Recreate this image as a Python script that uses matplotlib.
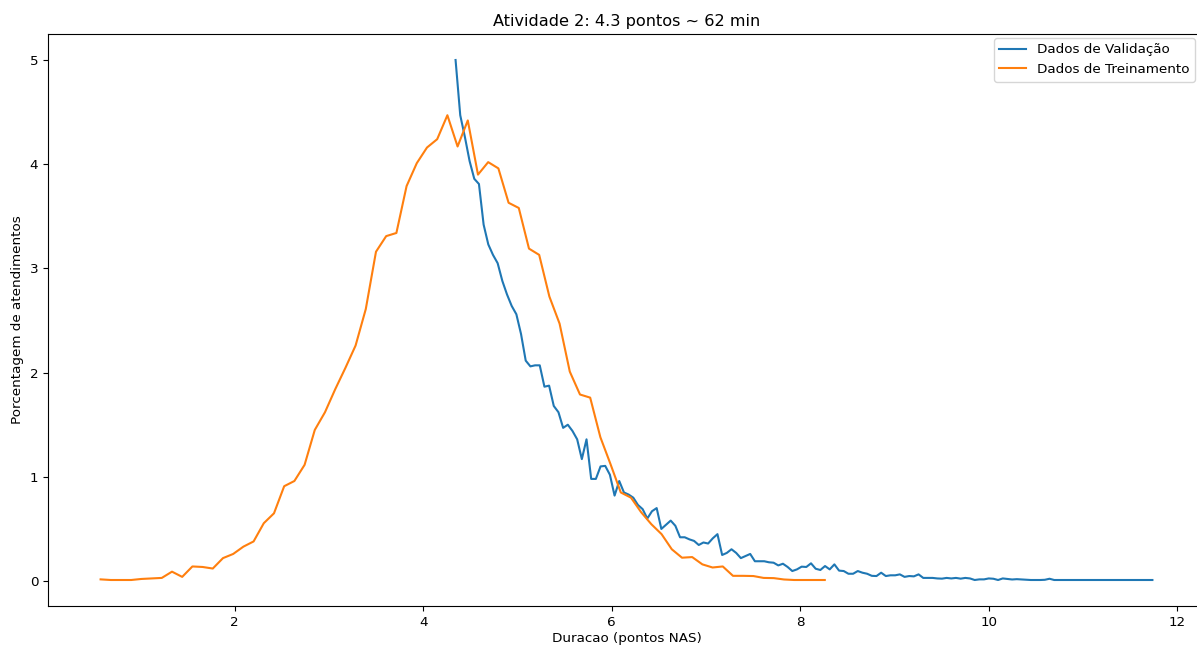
import numpy as np
import matplotlib
matplotlib.use("Agg")
import matplotlib.pyplot as plt

title = "Atividade 2: 4.3 pontos ~ 62 min"
xlabel = "Duracao (pontos NAS)"
ylabel = "Porcentagem de atendimentos"
label_val = "Dados de Validação"
label_train = "Dados de Treinamento"

# Training data (orange), 72 evenly spaced bins
train_x_start, train_x_end, train_n = 0.579, 8.26, 72
train_y = [
    0.016, 0.01, 0.01, 0.01, 0.02, 0.025, 0.03, 0.09, 0.04, 0.14,
    0.135, 0.12, 0.22, 0.26, 0.33, 0.38, 0.555, 0.65, 0.91, 0.96,
    1.115, 1.45, 1.62, 1.84, 2.045, 2.26, 2.61, 3.16, 3.31, 3.34,
    3.79, 4.01, 4.16, 4.24, 4.47, 4.17, 4.42, 3.90, 4.02, 3.96,
    3.63, 3.58, 3.19, 3.13, 2.73, 2.47, 2.01, 1.79, 1.76, 1.38,
    1.12, 0.85, 0.80, 0.66, 0.545, 0.45, 0.305, 0.224, 0.23, 0.16,
    0.13, 0.14, 0.05, 0.05, 0.048, 0.03, 0.028, 0.015, 0.01, 0.01,
    0.01, 0.01,
]

# Validation data (blue), 150 evenly spaced bins
val_x_start, val_x_end, val_n = 4.344, 11.735, 150
val_y = [
    5.00, 4.47, 4.26, 4.03, 3.86, 3.81, 3.42, 3.23, 3.13, 3.05,
    2.88, 2.75, 2.64, 2.56, 2.37, 2.115, 2.06, 2.07, 2.07, 1.865,
    1.875, 1.68, 1.62, 1.47, 1.50, 1.44, 1.36, 1.17, 1.36, 0.98,
    0.98, 1.10, 1.105, 1.02, 0.82, 0.96, 0.85, 0.83, 0.80, 0.73,
    0.69, 0.60, 0.67, 0.70, 0.50, 0.54, 0.58, 0.53, 0.42, 0.42,
    0.40, 0.385, 0.346, 0.37, 0.36, 0.41, 0.45, 0.25, 0.27, 0.305,
    0.27, 0.22, 0.24, 0.26, 0.19, 0.19, 0.19, 0.18, 0.176, 0.15,
    0.166, 0.135, 0.096, 0.112, 0.138, 0.135, 0.17, 0.118, 0.106, 0.144,
    0.112, 0.16, 0.10, 0.096, 0.07, 0.07, 0.096, 0.08, 0.07, 0.05,
    0.048, 0.08, 0.048, 0.055, 0.055, 0.064, 0.04, 0.048, 0.045, 0.064,
    0.03, 0.03, 0.03, 0.025, 0.023, 0.03, 0.025, 0.03, 0.023, 0.03,
    0.025, 0.01, 0.016, 0.016, 0.025, 0.022, 0.01, 0.025, 0.02, 0.015,
    0.018, 0.015, 0.012, 0.01, 0.01, 0.01, 0.012, 0.022, 0.01, 0.01,
    0.01, 0.01, 0.01, 0.01, 0.01, 0.01, 0.01, 0.01, 0.01, 0.01,
    0.01, 0.01, 0.01, 0.01, 0.01, 0.01, 0.01, 0.01, 0.01, 0.01,
]

train_x = np.linspace(train_x_start, train_x_end, train_n)
val_x = np.linspace(val_x_start, val_x_end, val_n)

plt.rcParams["font.size"] = 9.7

fig = plt.figure(figsize=(11.97, 6.47), dpi=100)
ax = fig.add_axes([48 / 1197, 41 / 647, (1205 - 48) / 1197, (606 - 34) / 647])
ax.plot(val_x, val_y, color="#1f77b4", lw=1.5, label=label_val)
ax.plot(train_x, train_y, color="#ff7f0e", lw=1.5, label=label_train)
ax.set_title(title, pad=5.5)
ax.set_xlabel(xlabel, labelpad=2.5)
ax.set_ylabel(ylabel)
ax.legend(loc="upper right", bbox_to_anchor=(1195 / 1197, 1 - 38 / 647),
          bbox_transform=fig.transFigure, borderaxespad=0)
fig.savefig("out.png", dpi=100)
